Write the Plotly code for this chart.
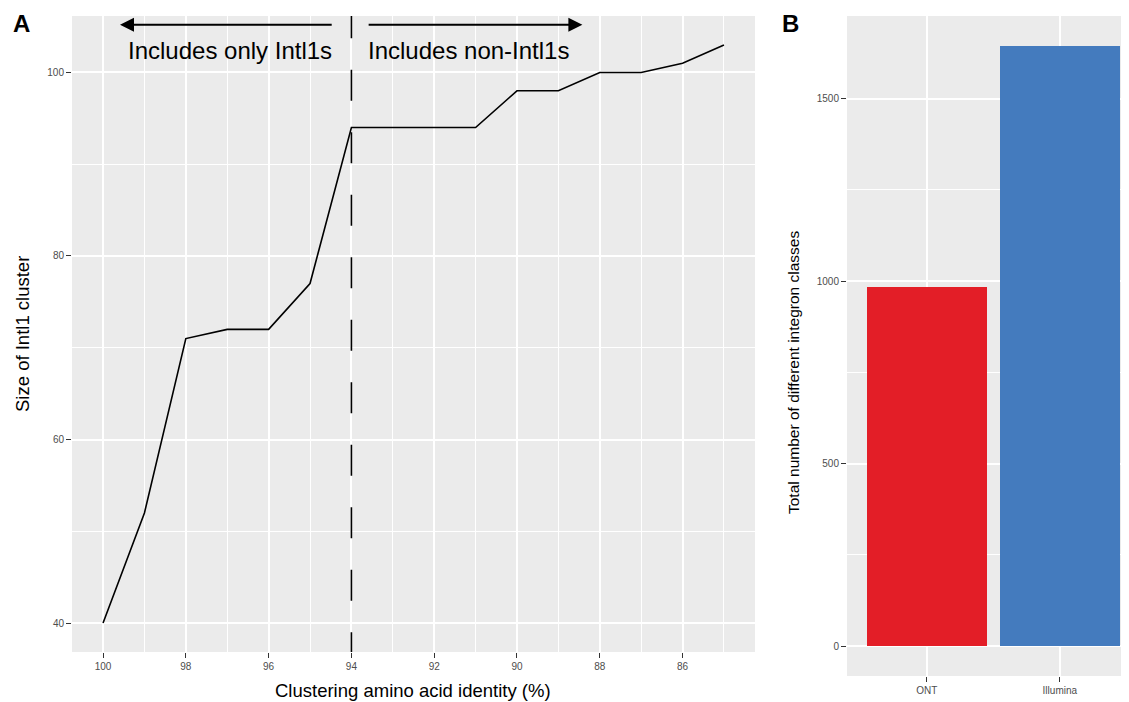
import plotly.graph_objects as go

identity = [100, 99, 98, 97, 96, 95, 94, 93, 92, 91, 90, 89, 88, 87, 86, 85]
cluster_size = [40, 52, 71, 72, 72, 77, 94, 94, 94, 94, 98, 98, 100, 100, 101, 103]
x_ticks = [100, 98, 96, 94, 92, 90, 88, 86]
y_ticks_a = [40, 60, 80, 100]
cutoff = 94

platforms = ["ONT", "Illumina"]
classes = [983, 1645]
bar_colors = ["#E31E27", "#447BBE"]
y_ticks_b = [0, 500, 1000, 1500]

W, H = 1129, 702
OFF = 8  # page body margin
def px(x): return (x - OFF) / W
def py(y): return 1 - (y - OFF) / H

PANEL = "#EBEBEB"
FAM = "Liberation Sans, Arial, sans-serif"
TICKFONT = dict(family=FAM, size=10, color="#4D4D4D")

fig = go.Figure()
fig.add_trace(go.Scatter(x=identity, y=cluster_size, mode="lines",
                         line=dict(color="black", width=1.6),
                         xaxis="x", yaxis="y", showlegend=False, hoverinfo="skip"))
fig.add_trace(go.Scatter(x=[cutoff, cutoff], y=[107.09, 35.53], mode="lines",
                         line=dict(color="black", width=1.6, dash="31px,31.5px"),
                         xaxis="x", yaxis="y", showlegend=False, hoverinfo="skip"))
fig.add_trace(go.Bar(x=platforms, y=classes, marker=dict(color=bar_colors, line=dict(width=0)),
                     width=0.9, xaxis="x2", yaxis="y2", showlegend=False))

axis_common = dict(showline=False, zeroline=False, gridcolor="white", gridwidth=1.6,
                   ticks="outside", ticklen=5, tickwidth=1.3, tickcolor="#333333",
                   tickfont=TICKFONT)
minor_common = dict(showgrid=True, gridcolor="white", gridwidth=0.8, ticks="")

fig.update_layout(
    width=W, height=H, margin=dict(l=0, r=0, t=0, b=0),
    paper_bgcolor="white", plot_bgcolor=PANEL,
    xaxis=dict(domain=[px(72), px(755)], range=[100.75, 84.25], anchor="y",
               tickvals=x_ticks, ticktext=[str(v) for v in x_ticks],
               minor=dict(tickvals=[99, 97, 95, 93, 91, 89, 87, 85], **minor_common),
               **axis_common),
    yaxis=dict(domain=[py(652), py(16)], range=[36.85, 106.15], anchor="x",
               tickvals=y_ticks_a, ticktext=[str(v) for v in y_ticks_a],
               minor=dict(tickvals=[50, 70, 90], **minor_common),
               **axis_common),
    xaxis2=dict(domain=[px(847), px(1129)], range=[-0.6, 1.52], anchor="y2",
                type="category", **axis_common),
    yaxis2=dict(domain=[py(676), py(16)], range=[-82, 1726], anchor="x2",
                tickvals=y_ticks_b, ticktext=[str(v) for v in y_ticks_b],
                minor=dict(tickvals=[250, 750, 1250], **minor_common),
                **axis_common),
    bargap=0,
)

C = dict(xanchor="center", yanchor="middle", showarrow=False)
ann = []
ann.append(dict(x=99.59, y=105.2, ax=94.44, ay=105.2, xref="x", yref="y", axref="x", ayref="y",
                showarrow=True, arrowhead=2, arrowsize=1.4, arrowwidth=2, arrowcolor="black", text=""))
ann.append(dict(x=88.42, y=105.2, ax=93.62, ay=105.2, xref="x", yref="y", axref="x", ayref="y",
                showarrow=True, arrowhead=2, arrowsize=1.4, arrowwidth=2, arrowcolor="black", text=""))
ann.append(dict(x=96.93, y=102.4, xref="x", yref="y", text="Includes only Intl1s",
                font=dict(family=FAM, size=24, color="black"), **C))
ann.append(dict(x=91.17, y=102.4, xref="x", yref="y", text="Includes non-Intl1s",
                font=dict(family=FAM, size=24, color="black"), **C))
ann.append(dict(x=px(413), y=py(690), xref="paper", yref="paper", text="Clustering amino acid identity (%)",
                font=dict(family=FAM, size=18.5, color="black"), **C))
ann.append(dict(x=px(22), y=py(334), xref="paper", yref="paper", text="Size of Intl1 cluster",
                textangle=-90, font=dict(family=FAM, size=18.5, color="black"), **C))
ann.append(dict(x=px(793), y=py(373), xref="paper", yref="paper",
                text="Total number of different integron classes",
                textangle=-90, font=dict(family=FAM, size=15.5, color="black"), **C))
ann.append(dict(x=px(21), y=1.0, xref="paper", yref="paper", text="<b>A</b>",
                xanchor="center", yanchor="top", showarrow=False,
                font=dict(family=FAM, size=24, color="black")))
ann.append(dict(x=px(790), y=1.0, xref="paper", yref="paper", text="<b>B</b>",
                xanchor="center", yanchor="top", showarrow=False,
                font=dict(family=FAM, size=24, color="black")))
fig.update_layout(annotations=ann)

fig.write_html("out.html")
